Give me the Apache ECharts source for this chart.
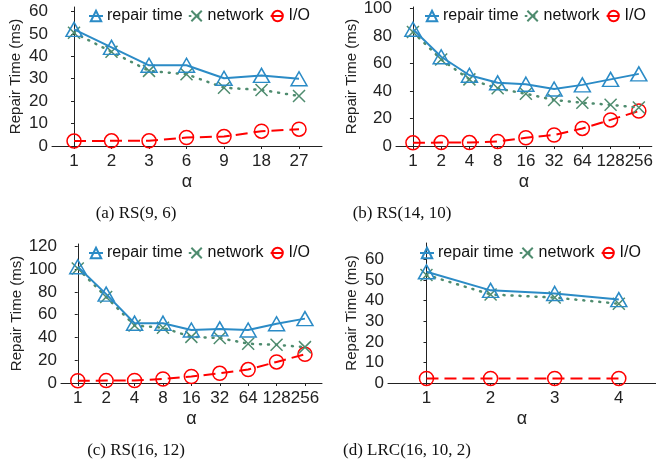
<!DOCTYPE html>
<html>
<head>
<meta charset="utf-8">
<script src="https://cdn.jsdelivr.net/npm/echarts@6/dist/echarts.min.js"></script>
<style>
  html, body { margin: 0; padding: 0; background: #fff; }
  #main { width: 656px; height: 466px; }
</style>
</head>
<body>
<div id="main"></div>
<script>
// categories (alpha) for each panel
var alphaA = ['1', '2', '3', '6', '9', '18', '27']
var alphaB = ['1', '2', '4', '8', '16', '32', '64', '128', '256']
var alphaC = ['1', '2', '4', '8', '16', '32', '64', '128', '256']
var alphaD = ['1', '2', '3', '4']

// (a) RS(9,6)
var repairA = [52, 44, 36, 36, 30.2, 31.5, 30]
var networkA = [50.5, 42, 33.5, 32, 26, 25, 22.3]
var ioA = [2.2, 2.3, 2.3, 3.8, 4.2, 6.6, 7.5]
// (b) RS(14,10)
var repairB = [85, 65, 51.5, 46, 45, 41.5, 44.5, 48.5, 52.5]
var networkB = [83, 63, 48.5, 42, 38, 33.5, 31.5, 30, 28]
var ioB = [2.3, 2.5, 2.5, 3.3, 6, 8, 12.8, 19, 25.5]
// (c) RS(16,12)
var repairC = [102, 78, 52.5, 52.5, 46.5, 47.5, 46.5, 52, 56.5]
var networkC = [100.5, 75.5, 50.5, 48.5, 40.5, 39.5, 34.5, 33.5, 31.5]
var ioC = [2, 2.1, 2.2, 3.5, 5.7, 8.5, 11.8, 18.5, 25.2]
// (d) LRC(16,10,2)
var repairD = [54, 45, 43.5, 40.5]
var networkD = [52.5, 43, 41.5, 38.5]
var ioD = [2.2, 2.2, 2.2, 2.2]

var ticksA = [0, 10, 20, 30, 40, 50, 60]
var ticksB = [0, 20, 40, 60, 80, 100]
var ticksC = [0, 20, 40, 60, 80, 100, 120]
var ticksD = [0, 10, 20, 30, 40, 50, 60]

var names = ['repair time', 'network', 'I/O']
var captions = ['(a) RS(9, 6)', '(b) RS(14, 10)', '(c) RS(16, 12)', '(d) LRC(16, 10, 2)']

var BLUE = '#2b8bc6'
var GREEN = '#4f8c6f'
var RED = '#ff0000'
var AXIS = '#222'
var FONT = '"Liberation Sans", Arial, sans-serif'

const chartDom = document.getElementById('main')
const myChart = echarts.init(chartDom, null, { renderer: 'canvas' })

// panel layout: grid box + x extent (in category index units)
var panels = [
  { cats: alphaA, data: [repairA, networkA, ioA], ticks: ticksA, ymax: 62,
    left: 52, top: 7, width: 270, height: 139, xmin: -0.587, xmax: 6.613, legX: 88, legY: 8, cap: [131, 200] },
  { cats: alphaB, data: [repairB, networkB, ioB], ticks: ticksB, ymax: 101.2,
    left: 396, top: 7, width: 258, height: 139, xmin: -0.6, xmax: 8.46, legX: 424, legY: 8, cap: [397, 200] },
  { cats: alphaC, data: [repairC, networkC, ioC], ticks: ticksC, ymax: 122,
    left: 61, top: 244, width: 261, height: 139, xmin: -0.59, xmax: 8.6, legX: 88, legY: 245, cap: [131, 437] },
  { cats: alphaD, data: [repairD, networkD, ioD], ticks: ticksD, ymax: 68,
    left: 388, top: 243, width: 268, height: 140, xmin: -0.6, xmax: 3.58, legX: 419, legY: 245, cap: [402, 437] },
]

function pairs(arr) {
  return arr.map(function (v, i) { return [i, v] })
}

var grid = [], xAxis = [], yAxis = [], series = [], legend = [], title = []
panels.forEach(function (p, k) {
  grid.push({ left: p.left, top: p.top, width: p.width, height: p.height })
  xAxis.push({
    type: 'value', gridIndex: k, min: p.xmin, max: p.xmax,
    name: 'α', nameLocation: 'middle', nameGap: 27,
    nameTextStyle: { fontFamily: FONT, fontSize: 18, color: AXIS },
    splitLine: { show: false },
    axisLine: { lineStyle: { color: AXIS, width: 1 } },
    axisTick: { show: true, length: 3, customValues: p.cats.map(function (c, i) { return i }), lineStyle: { color: AXIS } },
    axisLabel: {
      customValues: p.cats.map(function (c, i) { return i }),
      margin: 7, fontFamily: FONT, fontSize: 17, color: AXIS,
      formatter: function (v) { return p.cats[Math.round(v)] },
    },
  })
  yAxis.push({
    type: 'value', gridIndex: k, min: 0, max: p.ymax,
    name: 'Repair Time (ms)', nameLocation: 'middle', nameGap: 29,
    nameTextStyle: { fontFamily: FONT, fontSize: 15, color: AXIS },
    splitLine: { show: false },
    axisLine: { show: true, lineStyle: { color: AXIS, width: 1 } },
    axisTick: { show: true, length: 3, customValues: p.ticks, lineStyle: { color: AXIS } },
    axisLabel: { customValues: p.ticks, margin: 4, fontFamily: FONT, fontSize: 17, color: AXIS },
  })
  // repair time
  series.push({
    name: names[0], type: 'line', xAxisIndex: k, yAxisIndex: k, data: pairs(p.data[0]),
    symbol: 'triangle', symbolSize: [16, 14],
    itemStyle: { color: 'rgba(255,255,255,0)', borderColor: BLUE, borderWidth: 1.5 },
    lineStyle: { color: BLUE, width: 2 }, z: 4,
  })
  // network
  series.push({
    name: names[1], type: 'line', xAxisIndex: k, yAxisIndex: k, data: pairs(p.data[1]),
    symbol: 'path://M0,0L10,10M10,0L0,10', symbolSize: 12,
    itemStyle: { color: 'rgba(255,255,255,0)', borderColor: GREEN, borderWidth: 1.5 },
    lineStyle: { color: GREEN, width: 2.5, type: [1, 7], cap: 'round' }, z: 3,
  })
  // I/O
  series.push({
    name: names[2], type: 'line', xAxisIndex: k, yAxisIndex: k, data: pairs(p.data[2]),
    symbol: 'circle', symbolSize: 14,
    itemStyle: { color: 'rgba(255,255,255,0)', borderColor: RED, borderWidth: 1.5 },
    lineStyle: { color: RED, width: 2, type: [12, 6] }, z: 2,
  })
  legend.push({
    data: names, left: p.legX, top: p.legY, width: 260, padding: 0,
    itemWidth: 14, itemHeight: 13, itemGap: 6,
    textStyle: { fontFamily: FONT, fontSize: 16, color: '#111', padding: [0, 0, 0, -1] },
  })
  title.push({
    text: captions[k], left: p.cap[0], top: p.cap[1], textAlign: 'center',
    textStyle: { fontFamily: '"Liberation Serif", "Times New Roman", serif', fontSize: 17, fontWeight: 'normal', color: '#111' },
  })
})

var option = {
  animation: false,
  backgroundColor: '#fff',
  title: title,
  legend: legend,
  grid: grid,
  xAxis: xAxis,
  yAxis: yAxis,
  series: series,
}
option && myChart.setOption(option)
</script>
</body>
</html>
